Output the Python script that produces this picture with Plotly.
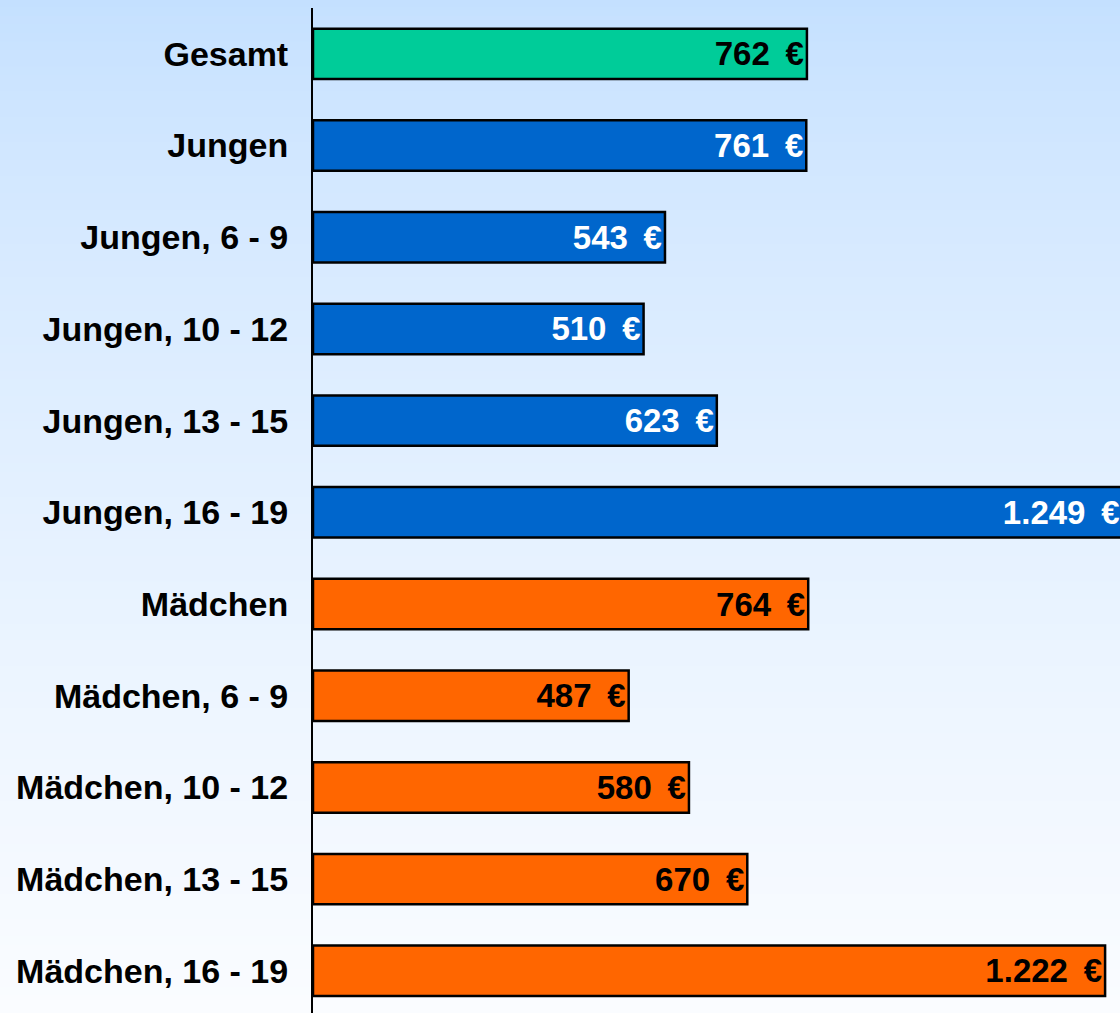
import plotly.graph_objects as go

categories = ["Gesamt", "Jungen", "Jungen, 6 - 9", "Jungen, 10 - 12", "Jungen, 13 - 15",
              "Jungen, 16 - 19", "Mädchen", "Mädchen, 6 - 9", "Mädchen, 10 - 12",
              "Mädchen, 13 - 15", "Mädchen, 16 - 19"]
values = [762, 761, 543, 510, 623, 1249, 764, 487, 580, 670, 1222]
groups = ["gesamt", "jungen", "jungen", "jungen", "jungen", "jungen",
          "maedchen", "maedchen", "maedchen", "maedchen", "maedchen"]

fill_colors = {"gesamt": "#00CC99", "jungen": "#0066CC", "maedchen": "#FF6600"}
text_colors = {"gesamt": "#000000", "jungen": "#FFFFFF", "maedchen": "#000000"}

labels = [f"{v:,}".replace(",", ".") + "\u00a0\u2009€" for v in values]

W, H = 1120, 1013
ML, MR, MT, MB = 313, 0, 8, 0
plot_w = W - ML - MR
plot_h = H - MT - MB

fig = go.Figure(go.Bar(
    y=categories,
    x=values,
    orientation="h",
    marker=dict(color=[fill_colors[g] for g in groups],
                line=dict(color="#000000", width=2.5)),
    text=labels,
    textposition="inside",
    insidetextanchor="end",
    constraintext="none",
    textangle=0,
    textfont=dict(family="Liberation Sans, Arial, sans-serif", size=33,
                  color=[text_colors[g] for g in groups], weight="bold"),
    hoverinfo="skip",
))

# vertical gradient background built from strips
n = 120
top = (196, 224, 255)
bot = (250, 252, 255)
shapes = []
x0 = -ML / plot_w
y_lo = -MB / plot_h
y_hi = 1 + MT / plot_h
for i in range(n):
    t = i / (n - 1)
    f = t ** 0.75
    c = tuple(round(top[k] + (bot[k] - top[k]) * f) for k in range(3))
    ya = y_hi - (y_hi - y_lo) * i / n
    yb = y_hi - (y_hi - y_lo) * (i + 1) / n
    shapes.append(dict(type="rect", xref="paper", yref="paper",
                       x0=x0 - 0.01, x1=1.01, y0=yb - 0.001, y1=ya + 0.001,
                       fillcolor="rgb(%d,%d,%d)" % c, line=dict(width=0),
                       layer="below"))

fig.update_layout(
    width=W, height=H,
    margin=dict(l=ML, r=MR, t=MT, b=MB, pad=0),
    paper_bgcolor="rgb(225,238,253)",
    plot_bgcolor="rgba(0,0,0,0)",
    bargap=0.45,
    showlegend=False,
    shapes=shapes,
    xaxis=dict(visible=False, range=[0, 1245], fixedrange=True),
    yaxis=dict(
        categoryorder="array", categoryarray=categories,
        range=[10.46, -0.5],
        showline=True, linecolor="#000000", linewidth=2,
        showgrid=False, zeroline=False, fixedrange=True,
        ticks="", ticklabelstandoff=16,
        tickfont=dict(family="Liberation Sans, Arial, sans-serif", size=34,
                      color="#000000", weight="bold"),
    ),
)

fig.write_html("out.html",
               config={"displayModeBar": False, "staticPlot": True},
               post_script="document.body.style.margin='0';document.body.style.overflow='hidden';")
